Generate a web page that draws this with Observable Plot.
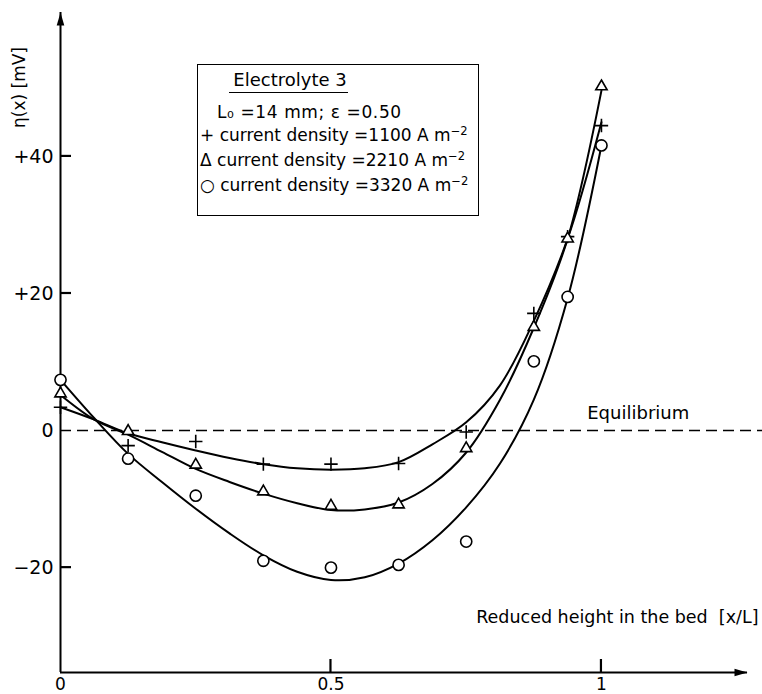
<!DOCTYPE html>
<html>
<head>
<meta charset="utf-8">
<script src="https://cdn.jsdelivr.net/npm/d3@7"></script>
<script src="https://cdn.jsdelivr.net/npm/@observablehq/plot@0.6"></script>
<style>
  html, body { margin: 0; padding: 0; background: #fff; }
  #wrap { position: relative; width: 762px; height: 694px; font-family: "DejaVu Sans", sans-serif; color: #000; }
  #wrap svg { display: block; }
  .lg { position: absolute; white-space: nowrap; line-height: 1; }
  .lg sup { font-size: 0.68em; vertical-align: 0.55em; line-height: 0; }
  #box { position: absolute; border: 1.6px solid #000; box-sizing: border-box; background: #fff; }
  #uline { position: absolute; border-top: 1.6px solid #000; height: 0; }
</style>
</head>
<body>
<div id="wrap"><div id="chart"></div></div>
<script>
// ---- data ----
const positions = [0, 0.125, 0.25, 0.375, 0.5, 0.625, 0.75, 0.875, 0.9375, 1];
const eta1100 = [3.4, -2.2, -1.6, -4.9, -4.9, -4.8, -0.2, 17.1, 28.3, 44.5];
const eta2210 = [5.4, -0.1, -5.0, -8.9, -11.0, -10.8, -2.6, 15.1, 28.0, 50.2];
const eta3320 = [7.4, -4.1, -9.5, -19.0, -20.0, -19.6, -16.2, 10.1, 19.5, 41.6];

// fitted curves
const curvePositions = [0, 0.0625, 0.125, 0.1875, 0.25, 0.3125, 0.375, 0.4375, 0.5, 0.5625, 0.625, 0.6875, 0.75, 0.8125, 0.875, 0.9375, 1];
const fit1100 = [3.4, 1.6, -0.4, -1.7, -2.9, -4.0, -4.9, -5.5, -5.7, -5.5, -4.6, -2.0, 1.2, 6.6, 16.0, 28.0, 45.0];
const fit2210 = [5.2, 1.6, -0.6, -3.1, -5.6, -7.5, -9.2, -10.6, -11.6, -11.5, -10.5, -7.8, -3.2, 4.5, 15.0, 28.0, 49.6];
const fit3320 = [7.4, 1.8, -3.4, -7.5, -11.4, -15.0, -18.2, -20.6, -21.8, -21.4, -19.4, -16.0, -11.2, -4.8, 4.5, 19.3, 41.6];

const densities = [1100, 2210, 3320];
const markerSymbols = ["plus", "triangle2", "circle"];
const legendGlyphs = ["+", "Δ", "○"];

const xTickValues = [0.5, 1];
const xLabelValues = [0, 0.5, 1];
const yTickValues = [-20, 20, 40];
const yLabelValues = [-20, 0, 20, 40];
const xDomain = [0, 1.27];
const yDomain = [-35.3, 61];

const xTitle = "Reduced height in the bed  [x/L]";
const yTitle = "η(x) [mV]";
const equilibriumLabel = "Equilibrium";
const legendTitle = "Electrolyte 3";
const legendParams = "L₀ =14 mm;  ε =0.50";

// ---- layout ----
const W = 762, H = 694, ML = 60, MR = 15, MT = 12, MB = 22;

// ---- tables ----
const allEta = [eta1100, eta2210, eta3320];
const allFit = [fit1100, fit2210, fit3320];
const points = allEta.flatMap((arr, s) => arr.map((v, i) => ({x: positions[i], y: v, s})));
const fits = allFit.flatMap((arr, s) => arr.map((v, i) => ({x: curvePositions[i], y: v, s})));

const arrowHead = {
  draw(ctx) { ctx.moveTo(0, 0); ctx.lineTo(-3.8, 13); ctx.lineTo(3.8, 13); ctx.closePath(); }
};

const fmtY = d => d > 0 ? "+" + d : d < 0 ? "\u2212" + Math.abs(d) : "0";
const fmtX = d => String(d);

const chart = Plot.plot({
  width: W,
  height: H,
  marginLeft: ML,
  marginRight: MR,
  marginTop: MT,
  marginBottom: MB,
  x: {domain: xDomain, label: null},
  y: {domain: yDomain, label: null},
  style: {fontFamily: "'DejaVu Sans', sans-serif", fontSize: "17px", color: "#000", background: "#fff", overflow: "visible"},
  marks: [
    // equilibrium dashed line
    Plot.ruleY([0], {stroke: "#000", strokeWidth: 1.5, strokeDasharray: "11,6", insetRight: -MR}),
    // axis lines with arrow heads
    Plot.ruleX([xDomain[0]], {stroke: "#000", strokeWidth: 2}),
    Plot.ruleY([yDomain[0]], {stroke: "#000", strokeWidth: 2}),
    Plot.dot([0], {frameAnchor: "top-left", symbol: arrowHead, fill: "#000", stroke: null}),
    Plot.dot([0], {frameAnchor: "bottom-right", symbol: arrowHead, rotate: 90, fill: "#000", stroke: null}),
    // tick labels
    Plot.axisX({ticks: xLabelValues, tickSize: 0, tickPadding: 5, tickFormat: fmtX, fontSize: 17, label: null}),
    Plot.axisY({ticks: yLabelValues, tickSize: 0, tickPadding: 7, tickFormat: fmtY, fontSize: 19, label: null}),
    // fitted curves
    Plot.line(fits, {x: "x", y: "y", z: "s", curve: "catmull-rom", stroke: "#000", strokeWidth: 2}),
    // measured points
    Plot.dot(points.filter(d => d.s === 0), {x: "x", y: "y", symbol: markerSymbols[0], r: 4.4, stroke: "#000", strokeWidth: 1.6}),
    Plot.dot(points.filter(d => d.s === 1), {x: "x", y: "y", symbol: markerSymbols[1], r: 5.4, fill: "#fff", stroke: "#000", strokeWidth: 1.6}),
    Plot.dot(points.filter(d => d.s === 2), {x: "x", y: "y", symbol: markerSymbols[2], r: 5.6, fill: "#fff", stroke: "#000", strokeWidth: 1.6}),
    // annotations
    Plot.text([equilibriumLabel], {x: 1.068, y: 0, text: d => d, dy: -17, fontSize: 18}),
    Plot.text([xTitle], {frameAnchor: "bottom-right", text: d => d, textAnchor: "end", lineAnchor: "middle", dx: 11, dy: -55, fontSize: 17.5}),
    Plot.text([yTitle], {frameAnchor: "top-left", text: d => d, rotate: -90, textAnchor: "middle", lineAnchor: "middle", dx: -41, dy: 75, fontSize: 17})
  ]
});
document.getElementById("chart").appendChild(chart);

// ---- inward tick marks, placed through the plot's own scales ----
const sx = chart.scale("x"), sy = chart.scale("y");
const x0 = sx.apply(xDomain[0]), y0 = sy.apply(yDomain[0]);
const tg = d3.select(chart).append("g").attr("stroke", "#000").attr("stroke-width", 2.2);
tg.selectAll("line.xt").data(xTickValues).join("line")
  .attr("class", "xt")
  .attr("x1", d => sx.apply(d)).attr("x2", d => sx.apply(d))
  .attr("y1", y0).attr("y2", y0 - 13);
tg.selectAll("line.yt").data(yTickValues).join("line")
  .attr("class", "yt")
  .attr("y1", d => sy.apply(d)).attr("y2", d => sy.apply(d))
  .attr("x1", x0).attr("x2", x0 + 11);

// ---- legend box ----
const wrap = document.getElementById("wrap");
const box = document.createElement("div");
box.id = "box";
Object.assign(box.style, {left: "197px", top: "64px", width: "282px", height: "152px"});
wrap.appendChild(box);

function placeLine(html, left, baseline, fs, centered) {
  const el = document.createElement("div");
  el.className = "lg";
  el.innerHTML = html;
  el.style.fontSize = fs + "px";
  el.style.top = (baseline - 0.846 * fs) + "px";
  el.style.left = left + "px";
  if (centered) el.style.transform = "translateX(-50%)";
  wrap.appendChild(el);
  return el;
}
placeLine(legendTitle, 290, 86, 18, true);
const ul = document.createElement("div");
ul.id = "uline";
Object.assign(ul.style, {left: "229px", top: "92px", width: "119px"});
wrap.appendChild(ul);
placeLine(legendParams, 217, 118, 17).style.letterSpacing = "0.6px";
densities.forEach((d, i) => {
  placeLine(`${legendGlyphs[i]} current density =${d} A m<sup>\u22122</sup>`, 200, 141 + i * 25, 17);
});
</script>
</body>
</html>
